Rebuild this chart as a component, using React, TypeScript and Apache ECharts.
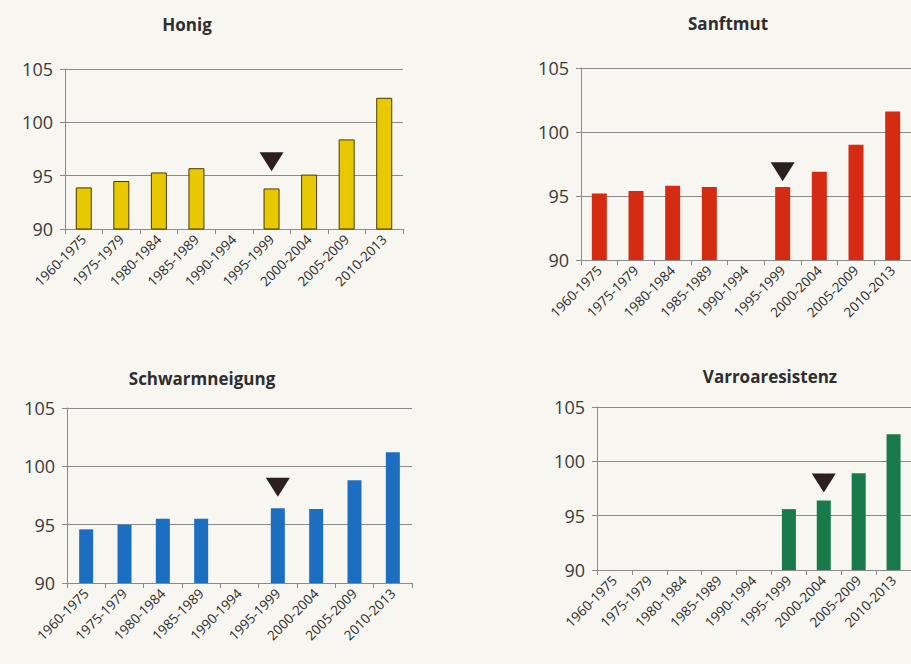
import React, { useEffect, useRef } from "react";
import * as echarts from "echarts";

const categories = [
  "1960-1975", "1975-1979", "1980-1984", "1985-1989", "1990-1994",
  "1995-1999", "2000-2004", "2005-2009", "2010-2013",
];
const honig = [93.9, 94.5, 95.3, 95.7, null, 93.8, 95.1, 98.4, 102.3];
const sanftmut = [95.2, 95.4, 95.8, 95.7, null, 95.7, 96.9, 99.0, 101.6];
const schwarmneigung = [94.6, 95.0, 95.5, 95.5, null, 96.4, 96.35, 98.8, 101.2];
const varroaresistenz = [null, null, null, null, null, 95.6, 96.4, 98.9, 102.5];
const titles = ["Honig", "Sanftmut", "Schwarmneigung", "Varroaresistenz"];
const markerCategories = ["1995-1999", "1995-1999", "1995-1999", "2000-2004"];
const markerValues = [96.3, 96.9, 98.2, 98.0];
const yMin = 90;
const yMax = 105;
const yStep = 5;

const seriesData = [honig, sanftmut, schwarmneigung, varroaresistenz];
const colors = ["#E8C800", "#D42B12", "#1C6EC1", "#187A48"];
const borders = ["#4a3a00", "#D42B12", "#1C6EC1", "#187A48"];
const barWidths = [16, 15, 14, 14];
const grids = [
  { left: 65, top: 69, width: 338, height: 160 },
  { left: 581, top: 68, width: 333, height: 192 },
  { left: 67, top: 408, width: 345, height: 175 },
  { left: 597, top: 407, width: 326, height: 163 },
];
const titlePos = [
  [182, 11],
  [723, 10],
  [197, 365],
  [765, 363],
];

const FONT = "'Open Sans', 'DejaVu Sans', sans-serif";

export default function App() {
  const ref = useRef<HTMLDivElement>(null);
  useEffect(() => {
    if (!ref.current) return;
    const chart = echarts.init(ref.current, null, { renderer: "svg" });
    const option: any = {
      animation: false,
      backgroundColor: "#f7f6f1",
      title: titles.map((t, i) => ({
        text: t,
        left: titlePos[i][0],
        top: titlePos[i][1],
        textAlign: "center",
        textStyle: { fontFamily: FONT, fontSize: 17, fontWeight: "bold", color: "#2e2e2e" },
      })),
      grid: grids.map((g) => ({ ...g, containLabel: false })),
      xAxis: grids.map((_, i) => ({
        type: "category",
        gridIndex: i,
        data: categories,
        boundaryGap: true,
        axisLine: { show: true, lineStyle: { color: "#8a8a8a", width: 1 } },
        axisTick: { show: true, alignWithLabel: false, length: 5, lineStyle: { color: "#8a8a8a" } },
        axisLabel: {
          rotate: 45,
          interval: 0,
          margin: 8,
          fontFamily: FONT,
          fontSize: 13.5,
          color: "#2a2a2a",
        },
      })),
      yAxis: grids.map((_, i) => ({
        type: "value",
        gridIndex: i,
        min: yMin,
        max: yMax,
        interval: yStep,
        axisLine: { show: true, lineStyle: { color: "#8a8a8a", width: 1 } },
        axisTick: { show: true, length: 5, lineStyle: { color: "#8a8a8a" } },
        axisLabel: { margin: 12, fontFamily: FONT, fontSize: 18, color: "#3a3a3a" },
        splitLine: { show: true, lineStyle: { color: "#8a8a8a", width: 1 } },
      })),
      series: seriesData.map((d, i) => ({
        type: "bar",
        name: titles[i],
        xAxisIndex: i,
        yAxisIndex: i,
        data: d.map((v) => (v === null ? "-" : v)),
        barWidth: barWidths[i],
        itemStyle: { color: colors[i], borderColor: borders[i], borderWidth: i === 0 ? 1 : 0 },
        markPoint: {
          symbol: "triangle",
          symbolSize: [24, 19],
          symbolRotate: 180,
          itemStyle: { color: "#2b1f20" },
          label: { show: false },
          data: [{ coord: [markerCategories[i], markerValues[i]] }],
        },
      })),
    };
    chart.setOption(option);
    return () => chart.dispose();
  }, []);
  return (
    <div
      ref={ref}
      style={{ position: "fixed", left: 0, top: 0, width: 911, height: 664 }}
    />
  );
}
